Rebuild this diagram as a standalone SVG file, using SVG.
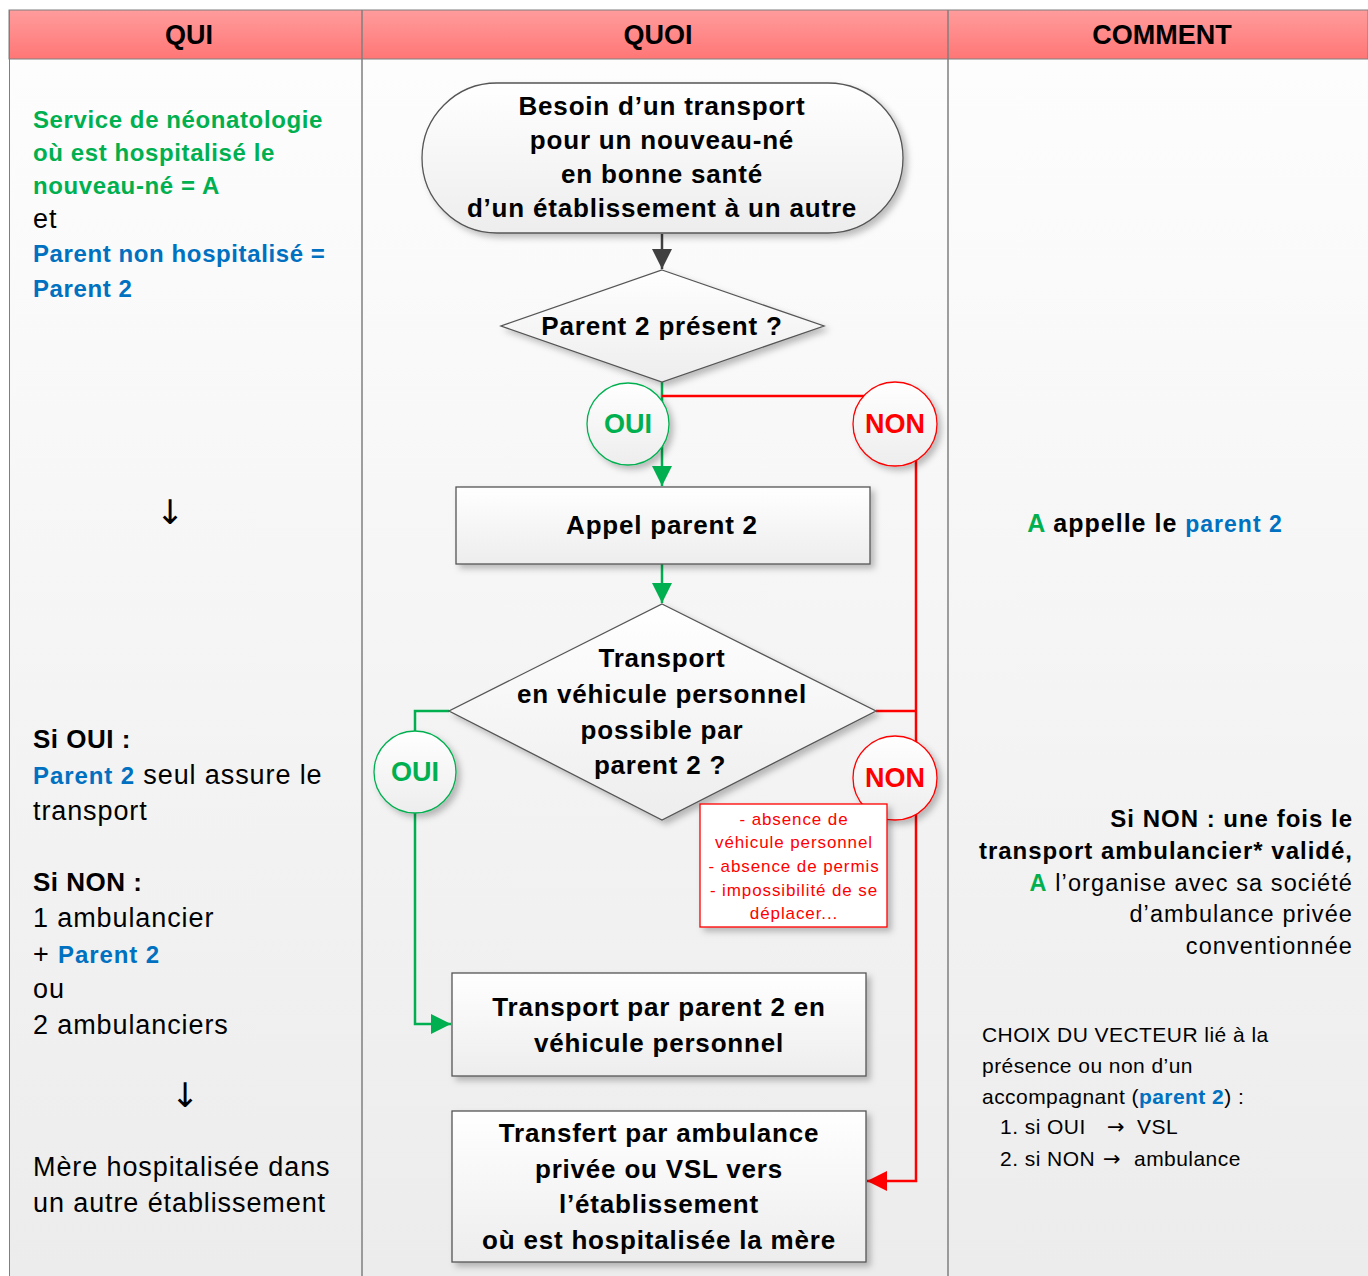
<svg xmlns="http://www.w3.org/2000/svg" width="1368" height="1276" viewBox="0 0 1368 1276">
<defs>
<linearGradient id="hdr" x1="0" y1="0" x2="0" y2="1"><stop offset="0" stop-color="#ff9c9c"/><stop offset="1" stop-color="#ff7676"/></linearGradient>
<linearGradient id="col" x1="0" y1="0" x2="0" y2="1"><stop offset="0" stop-color="#fdfdfd"/><stop offset="1" stop-color="#ececec"/></linearGradient>
<linearGradient id="shp" x1="0" y1="0" x2="0" y2="1"><stop offset="0" stop-color="#ffffff"/><stop offset="1" stop-color="#ededed"/></linearGradient>
<filter id="sh" x="-10%" y="-10%" width="125%" height="130%"><feDropShadow dx="4" dy="4" stdDeviation="3" flood-color="#000" flood-opacity="0.25"/></filter>
<marker id="agg" viewBox="0 0 10 10" refX="10" refY="5" markerWidth="8" markerHeight="8" orient="auto"><path d="M0,0 L10,5 L0,10 z" fill="#00b050"/></marker>
<marker id="ar" viewBox="0 0 10 10" refX="10" refY="5" markerWidth="8" markerHeight="8" orient="auto"><path d="M0,0 L10,5 L0,10 z" fill="#ff0000"/></marker>
<marker id="ak" viewBox="0 0 10 10" refX="10" refY="5" markerWidth="8" markerHeight="8" orient="auto"><path d="M0,0 L10,5 L0,10 z" fill="#404040"/></marker>
<style>
text{font-family:"Liberation Sans",Arial,sans-serif;}
.h{font-size:27px;font-weight:bold;fill:#000;text-anchor:middle;}
.b{font-size:26px;font-weight:bold;fill:#000;text-anchor:middle;letter-spacing:0.8px;}
.lg{font-size:24px;font-weight:bold;fill:#00b050;letter-spacing:0.6px;}
.lb{font-size:24px;font-weight:bold;fill:#0070c0;letter-spacing:0.6px;}
.lr{font-size:27px;fill:#000;letter-spacing:0.9px;}
.lbd{font-size:26px;font-weight:bold;fill:#000;letter-spacing:0.5px;}
.arr{font-family:"DejaVu Sans",sans-serif;font-size:34px;fill:#000;text-anchor:middle;}
.ra{font-family:"DejaVu Sans",sans-serif;font-size:21px;fill:#000;}
.rb{font-size:24px;font-weight:bold;fill:#000;text-anchor:end;letter-spacing:1px;}
.rr{font-size:23.5px;fill:#000;text-anchor:end;letter-spacing:1.1px;}
.cr{font-size:21px;fill:#000;letter-spacing:0.45px;}
.g{fill:#00b050;font-weight:bold;}
.bl{fill:#0070c0;font-weight:bold;}
.shape{fill:url(#shp);stroke:#555;stroke-width:1.3;filter:url(#sh);}
.cg{fill:url(#shp);stroke:#00b050;stroke-width:1.3;filter:url(#sh);}
.cred{fill:url(#shp);stroke:#ff0000;stroke-width:1.3;filter:url(#sh);}
.tg{font-size:27px;font-weight:bold;fill:#00b050;text-anchor:middle;}
.tr{font-size:27px;font-weight:bold;fill:#ff0000;text-anchor:middle;}
.note{font-size:17px;fill:#ff0000;text-anchor:middle;letter-spacing:0.9px;}
.lgn{fill:none;stroke:#00b050;stroke-width:2.5;}
.lrd{fill:none;stroke:#ff0000;stroke-width:2.5;}
</style>
</defs>
<rect width="1368" height="1276" fill="#ffffff"/>
<g id="lanes">
<rect x="9" y="59" width="353" height="1217" fill="url(#col)"/>
<rect x="362" y="59" width="586" height="1217" fill="url(#col)"/>
<rect x="948" y="59" width="420" height="1217" fill="url(#col)"/>
<rect x="9" y="10" width="1359" height="49" fill="url(#hdr)" stroke="#7f7f7f" stroke-width="1"/>
<line x1="362" y1="10" x2="362" y2="1276" stroke="#7f7f7f" stroke-width="1.5"/>
<line x1="948" y1="10" x2="948" y2="1276" stroke="#7f7f7f" stroke-width="1.5"/>
<line x1="9.5" y1="10" x2="9.5" y2="1276" stroke="#7f7f7f" stroke-width="1"/>
<text class="h" x="189" y="44">QUI</text>
<text class="h" x="658" y="44">QUOI</text>
<text class="h" x="1162" y="44">COMMENT</text>
</g>
<g id="qui-text">
<text class="lg" x="33" y="128">Service de néonatologie</text>
<text class="lg" x="33" y="161">où est hospitalisé le</text>
<text class="lg" x="33" y="194">nouveau-né = A</text>
<text class="lr" x="33" y="228">et</text>
<text class="lb" x="33" y="262">Parent non hospitalisé =</text>
<text class="lb" x="33" y="297">Parent 2</text>
<text class="arr" x="170" y="524">↓</text>
<text class="lbd" x="33" y="748">Si OUI :</text>
<text class="lr" x="33" y="784"><tspan class="bl" style="font-size:24px">Parent 2</tspan> seul assure le</text>
<text class="lr" x="33" y="820">transport</text>
<text class="lbd" x="33" y="891">Si NON :</text>
<text class="lr" x="33" y="927">1 ambulancier</text>
<text class="lr" x="33" y="963">+ <tspan class="bl" style="font-size:24px">Parent 2</tspan></text>
<text class="lr" x="33" y="998">ou</text>
<text class="lr" x="33" y="1034">2 ambulanciers</text>
<text class="arr" x="185" y="1107">↓</text>
<text class="lr" x="33" y="1176">Mère hospitalisée dans</text>
<text class="lr" x="33" y="1212">un autre établissement</text>
</g>
<g id="comment-text">
<text x="1155" y="532" style="font-size:25px;font-weight:bold;text-anchor:middle;letter-spacing:1px;"><tspan fill="#00b050">A</tspan> appelle le <tspan fill="#0070c0" style="font-size:23px">parent 2</tspan></text>
<text class="rb" x="1353" y="827">Si NON : une fois le</text>
<text class="rb" x="1353" y="859">transport ambulancier* validé,</text>
<text class="rr" x="1353" y="891"><tspan class="g">A</tspan> l’organise avec sa société</text>
<text class="rr" x="1353" y="922">d’ambulance privée</text>
<text class="rr" x="1353" y="954">conventionnée</text>
<text class="cr" x="982" y="1042">CHOIX DU VECTEUR lié à la</text>
<text class="cr" x="982" y="1073">présence ou non d’un</text>
<text class="cr" x="982" y="1104">accompagnant (<tspan class="bl">parent 2</tspan>) :</text>
<text class="cr" x="1000" y="1134">1. si OUI</text>
<text class="ra" x="1107" y="1134">→</text>
<text class="cr" x="1137" y="1134">VSL</text>
<text class="cr" x="1000" y="1166">2. si NON</text>
<text class="ra" x="1103" y="1166">→</text>
<text class="cr" x="1134" y="1166">ambulance</text>
</g>
<g id="connectors">
<line x1="662" y1="234" x2="662" y2="269" stroke="#404040" stroke-width="2.5" marker-end="url(#ak)"/>
<line class="lgn" x1="662" y1="382" x2="662" y2="486" marker-end="url(#agg)"/>
<polyline class="lrd" points="662,396 916,396"/>
<polyline class="lrd" points="916,440 916,1181 867,1181" marker-end="url(#ar)"/>
<line class="lgn" x1="662" y1="564" x2="662" y2="603" marker-end="url(#agg)"/>
<polyline class="lrd" points="876,711 916,711"/>
<polyline class="lgn" points="449,711 415,711 415,1024 451,1024" marker-end="url(#agg)"/>
</g>
<g id="n-start">
<rect class="shape" x="422" y="83" width="481" height="150" rx="75" ry="75"/>
<text class="b" x="662" y="115">Besoin d’un transport</text>
<text class="b" x="662" y="149">pour un nouveau-né</text>
<text class="b" x="662" y="183">en bonne santé</text>
<text class="b" x="662" y="217">d’un établissement à un autre</text>
</g>
<g id="n-dec1">
<polygon class="shape" points="662,270 824,326 662,382 501,326"/>
<text class="b" x="662" y="335">Parent 2 présent ?</text>
</g>
<g id="n-oui1">
<circle class="cg" cx="628" cy="424" r="41"/>
<text class="tg" x="628" y="433">OUI</text>
</g>
<g id="n-non1">
<circle class="cred" cx="895" cy="424" r="42"/>
<text class="tr" x="895" y="433">NON</text>
</g>
<g id="n-appel">
<rect class="shape" x="456" y="487" width="414" height="77"/>
<text class="b" x="662" y="534">Appel parent 2</text>
</g>
<g id="n-dec2">
<polygon class="shape" points="662,604 876,711 662,820 449,711"/>
<text class="b" x="662" y="667">Transport</text>
<text class="b" x="662" y="703">en véhicule personnel</text>
<text class="b" x="662" y="739">possible par</text>
<text class="b" x="660" y="774">parent 2 ?</text>
</g>
<g id="n-oui2">
<circle class="cg" cx="415" cy="772" r="41"/>
<text class="tg" x="415" y="781">OUI</text>
</g>
<g id="n-non2">
<circle class="cred" cx="895" cy="778" r="42"/>
<text class="tr" x="895" y="787">NON</text>
</g>
<g id="n-note">
<rect x="700" y="804" width="187" height="123" fill="#ffffff" stroke="#ff0000" stroke-width="1.3" filter="url(#sh)"/>
<text class="note" x="794" y="825">- absence de</text>
<text class="note" x="794" y="848">véhicule personnel</text>
<text class="note" x="794" y="872">- absence de permis</text>
<text class="note" x="794" y="896">- impossibilité de se</text>
<text class="note" x="794" y="919">déplacer...</text>
</g>
<g id="n-transport">
<rect class="shape" x="452" y="973" width="414" height="103"/>
<text class="b" x="659" y="1016">Transport par parent 2 en</text>
<text class="b" x="659" y="1052">véhicule personnel</text>
</g>
<g id="n-transfert">
<rect class="shape" x="452" y="1111" width="414" height="151"/>
<text class="b" x="659" y="1142">Transfert par ambulance</text>
<text class="b" x="659" y="1178">privée ou VSL vers</text>
<text class="b" x="659" y="1213">l’établissement</text>
<text class="b" x="659" y="1249">où est hospitalisée la mère</text>
</g>
</svg>
